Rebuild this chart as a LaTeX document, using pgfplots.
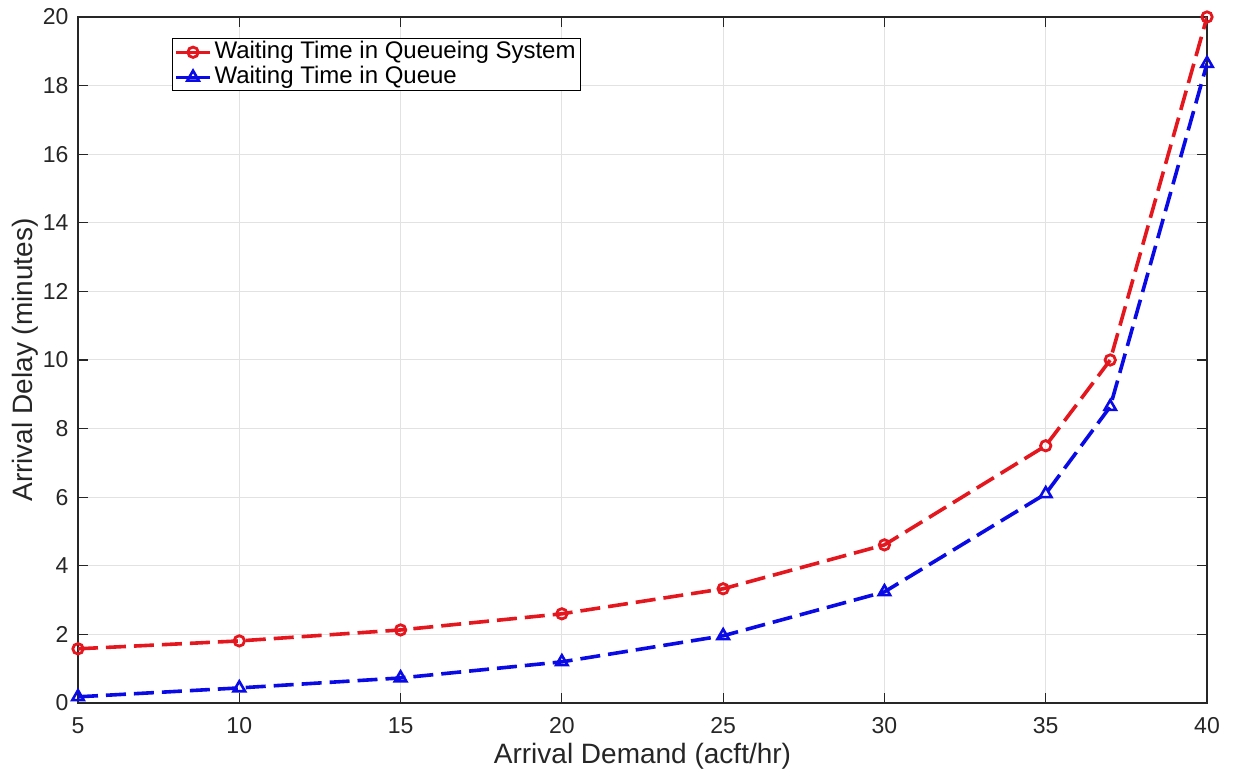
\documentclass[border=0pt]{standalone}
\usepackage{pgfplots}
\pgfplotsset{compat=1.18}
\usepackage{fontspec}
\setmainfont{Liberation Sans}
\definecolor{tickgray}{RGB}{38,38,38}
\definecolor{gridgray}{RGB}{226,226,226}
\definecolor{mred}{RGB}{228,22,30}
\definecolor{mblue}{RGB}{10,10,230}
\begin{document}
\begin{tikzpicture}
\begin{axis}[
  name=ax,
  anchor=south west, at={(0,0)},
  scale only axis,
  width=564.5pt, height=343pt,
  xmin=5, xmax=40, ymin=0, ymax=20,
  xtick={5,10,15,20,25,30,35,40},
  ytick={0,2,4,6,8,10,12,14,16,18,20},
  grid=major,
  major grid style={gridgray, line width=0.5pt},
  axis line style={tickgray, line width=0.6pt},
  tick style={tickgray, line width=0.6pt},
  tick align=inside,
  major tick length=5pt,
  ticklabel style={font=\fontsize{11.5pt}{13pt}\selectfont, text=tickgray},
  /pgf/number format/assume math mode=true,
  xticklabel style={anchor=base, yshift=-15pt},
  yticklabel style={anchor=east, xshift=-1.2pt},
  xlabel={Arrival Demand (acft/hr)},
  ylabel={Arrival Delay (minutes)},
  label style={font=\fontsize{14pt}{16pt}\selectfont, text=tickgray},
  xlabel style={at={(axis description cs:0.5,0)}, anchor=base, yshift=-30pt},
  ylabel style={at={(axis description cs:-0.0407,0.5)}, anchor=base},
  legend cell align=left,
  legend style={at={(0.0833,0.969)}, anchor=north west, draw=black, line width=0.5pt,
    font=\fontsize{12pt}{13pt}\selectfont, inner sep=1pt, row sep=1pt,
    nodes={inner ysep=0pt, inner xsep=1.5pt, text height=9pt, text depth=2.5pt}},
  legend image code/.code={\draw[mark repeat=2,mark phase=2,solid,line width=1.5pt]
    plot coordinates {(0pt,0pt) (8.5pt,0pt) (17pt,0pt)};},
]
\addplot[mred, line width=1.8pt, dash pattern=on 10pt off 4pt, mark=o, mark size=2.6pt, mark options={solid, line width=1.4pt}]
coordinates {(5,1.58) (10,1.81) (15,2.13) (20,2.6) (25,3.33) (30,4.61) (35,7.5) (37,10.0) (40,20.0)};
\addlegendentry{Waiting Time in Queueing System}
\addplot[mblue, line width=1.8pt, dash pattern=on 10pt off 4pt, mark=triangle, mark size=3.3pt, mark options={solid, line width=1.3pt}]
coordinates {(5,0.18) (10,0.44) (15,0.73) (20,1.2) (25,1.96) (30,3.24) (35,6.1) (37,8.64) (40,18.64)};
\addlegendentry{Waiting Time in Queue}
\end{axis}
\pgfresetboundingbox
\path[use as bounding box] (-39pt,-33.5pt) rectangle (578pt,351.5pt);
\end{tikzpicture}
\end{document}
